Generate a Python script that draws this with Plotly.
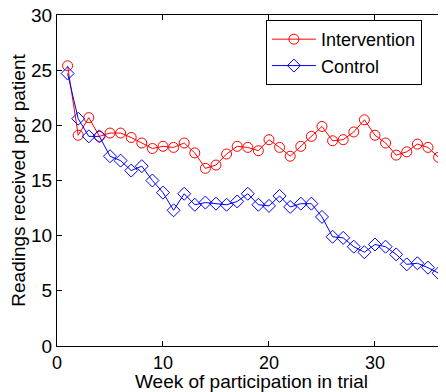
import plotly.graph_objects as go

weeks = list(range(1, 37))
intervention = [25.4, 19.1, 20.7, 19.0, 19.3, 19.3, 18.9, 18.4, 17.9, 18.1, 18.0, 18.4,
                17.5, 16.1, 16.4, 17.4, 18.1, 18.0, 17.7, 18.7, 18.0, 17.2, 18.1, 19.0,
                19.9, 18.6, 18.7, 19.4, 20.5, 19.1, 18.4, 17.3, 17.6, 18.3, 18.0, 17.1]
control = [24.7, 20.6, 19.0, 19.0, 17.2, 16.8, 15.9, 16.3, 15.0, 13.9, 12.3, 13.8,
           12.8, 13.0, 12.9, 12.8, 13.1, 13.8, 12.8, 12.7, 13.6, 12.6, 12.9, 12.9,
           11.7, 9.9, 9.8, 9.0, 8.5, 9.2, 9.0, 8.3, 7.4, 7.5, 7.1, 6.6]

x_ticks = [0, 10, 20, 30]
y_ticks = [0, 5, 10, 15, 20, 25, 30]

font = "Liberation Sans, Arial, sans-serif"

fig = go.Figure()
fig.add_trace(go.Scatter(x=weeks, y=intervention, name="Intervention", mode="lines+markers",
                         line=dict(color="#FF0000", width=1),
                         marker=dict(symbol="circle-open", size=10, color="#FF0000",
                                     line=dict(width=1))))
fig.add_trace(go.Scatter(x=weeks, y=control, name="Control", mode="lines+markers",
                         line=dict(color="#0000FF", width=1),
                         marker=dict(symbol="diamond-open", size=10, color="#0000FF",
                                     line=dict(width=1))))
# invisible trace to drive the right-hand tick axis
fig.add_trace(go.Scatter(x=[0], y=[0], yaxis="y2", showlegend=False, hoverinfo="skip",
                         mode="markers", marker=dict(opacity=0)))

# page body has an 8px default margin, so the figure is 8px smaller and offset
fig.update_layout(
    width=438, height=384,
    margin=dict(l=49, r=0, t=7, b=46),
    paper_bgcolor="white", plot_bgcolor="white",
    font=dict(family=font, size=19, color="black"),
    showlegend=True,
    legend=dict(x=0.537, y=0.985, xanchor="left", yanchor="top",
                bgcolor="white", bordercolor="black", borderwidth=1,
                font=dict(size=18), tracegroupgap=0, itemwidth=44),
    xaxis=dict(range=[0, 36.7], tickvals=x_ticks, showline=True, linecolor="black",
               linewidth=1, mirror="ticks", ticks="inside", ticklen=5, tickcolor="black",
               showgrid=False, zeroline=False, automargin=False,
               ticklabeloverflow="allow", tickfont=dict(size=18),
               title=dict(text="Week of participation in trial", standoff=3,
                          font=dict(size=19))),
    yaxis=dict(range=[0, 30], tickvals=y_ticks, showline=True, linecolor="black",
               linewidth=1, ticks="inside", ticklen=5, tickcolor="black",
               showgrid=False, zeroline=False, automargin=False,
               ticklabeloverflow="allow", tickfont=dict(size=19),
               title=dict(text="Readings received per patient", standoff=2,
                          font=dict(size=19))),
    yaxis2=dict(range=[0, 30], tickvals=y_ticks, overlaying="y", side="right",
                showline=False, ticks="inside", ticklen=5, tickcolor="black",
                showticklabels=False, showgrid=False, zeroline=False),
)

fig.write_html("out.html")
